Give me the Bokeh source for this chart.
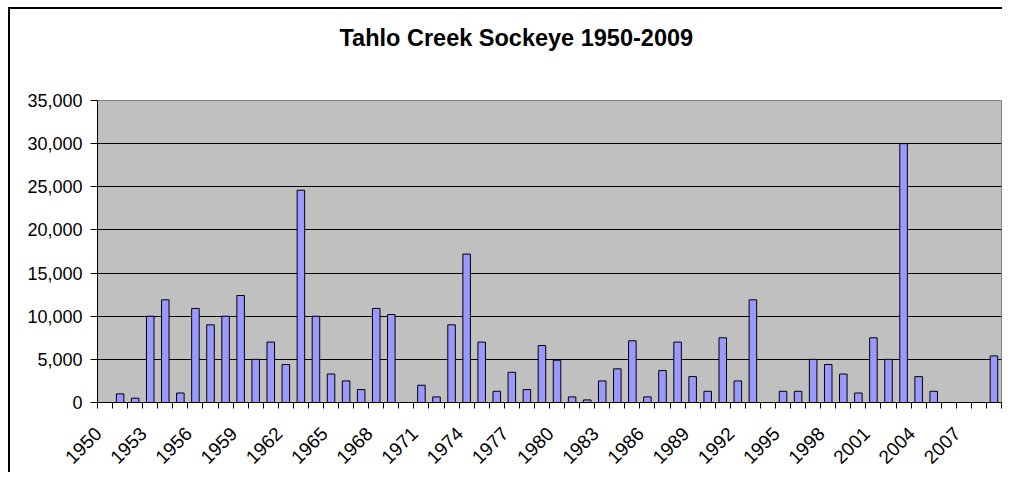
from bokeh.plotting import figure
from bokeh.models import (ColumnDataSource, FixedTicker, NumeralTickFormatter,
                          Range1d, Title)
from bokeh.embed import file_html
from bokeh.resources import INLINE

# ---- data ----
years = list(range(1950, 2010))
counts = [0, 1000, 500, 10000, 11900, 1100, 10900, 9000, 10000, 12400,
          5000, 7000, 4400, 24600, 10000, 3300, 2500, 1500, 10900, 10200,
          0, 2000, 650, 9000, 17200, 7000, 1300, 3500, 1500, 6600,
          4900, 650, 300, 2500, 3900, 7150, 650, 3700, 7000, 3000,
          1300, 7500, 2500, 11900, 0, 1300, 1300, 5000, 4400, 3300,
          1100, 7500, 5000, 30000, 3000, 1300, 0, 0, 0, 5400]
label_years = list(range(1950, 2010, 3))
y_ticks = [0, 5000, 10000, 15000, 20000, 25000, 30000, 35000]
title_text = "Tahlo Creek Sockeye 1950-2009"

xpos = [i + 0.5 for i in range(len(years))]
src = ColumnDataSource(dict(x=xpos, year=years, count=counts))

p = figure(width=1002, height=472, output_backend="svg", toolbar_location=None,
           x_range=Range1d(0, len(years)), y_range=Range1d(0, 35000),
           min_border_left=97, min_border_top=100, min_border_right=1,
           min_border_bottom=70)

p.background_fill_color = "#C0C0C0"
p.border_fill_color = None
p.outline_line_color = "#808080"
p.outline_line_width = 1
# outer chart border: left and top edges
p.styles = {
    "background": ("linear-gradient(#000,#000) 8px 7px / 2px 100% no-repeat, "
                   "linear-gradient(#000,#000) 8px 7px / 100% 2px no-repeat, #fff"),
}

p.vbar(x="x", top="count", width=0.5, bottom=0, source=src,
       fill_color="#9999FF", line_color="#000000", line_width=1)

# spacer between plot area and title, then the title itself
spacer = Title(text=" ", text_font_size="1px", standoff=42)
p.add_layout(spacer, "above")
t = Title(text=title_text, align="left", text_font="Liberation Sans",
          text_font_size="23.5px", text_font_style="bold", text_color="#000000",
          standoff=10, offset=242)
p.add_layout(t, "above")

# y axis
p.yaxis.ticker = FixedTicker(ticks=y_ticks)
p.yaxis.formatter = NumeralTickFormatter(format="0,0")
p.yaxis.major_label_text_font = "Liberation Sans"
p.yaxis.major_label_text_font_size = "18px"
p.yaxis.major_label_text_color = "#000000"
p.yaxis.axis_line_color = "#000000"
p.yaxis.major_tick_line_color = "#000000"
p.yaxis.major_tick_out = 7
p.yaxis.major_tick_in = 0
p.yaxis.minor_tick_line_color = None
p.yaxis.major_label_standoff = 8

# x axis
label_pos = [(y - 1950) + 0.05 for y in label_years]
p.xaxis.ticker = FixedTicker(ticks=label_pos,
                             minor_ticks=list(range(0, len(years) + 1)))
p.xaxis.major_label_overrides = {v: str(y) for v, y in zip(label_pos, label_years)}
p.xaxis.major_label_orientation = 0.785398
p.xaxis.major_label_text_font = "Liberation Sans"
p.xaxis.major_label_text_font_size = "19px"
p.xaxis.major_label_text_color = "#000000"
p.xaxis.axis_line_color = "#000000"
p.xaxis.major_tick_out = 0
p.xaxis.major_tick_in = 0
p.xaxis.minor_tick_out = 6
p.xaxis.minor_tick_in = 0
p.xaxis.minor_tick_line_color = "#000000"
p.xaxis.major_label_standoff = 22

p.xgrid.grid_line_color = None
p.ygrid.ticker = FixedTicker(ticks=y_ticks)
p.ygrid.grid_line_color = "#000000"
p.ygrid.grid_line_width = 1

open("out.html", "w").write(file_html(p, INLINE))
